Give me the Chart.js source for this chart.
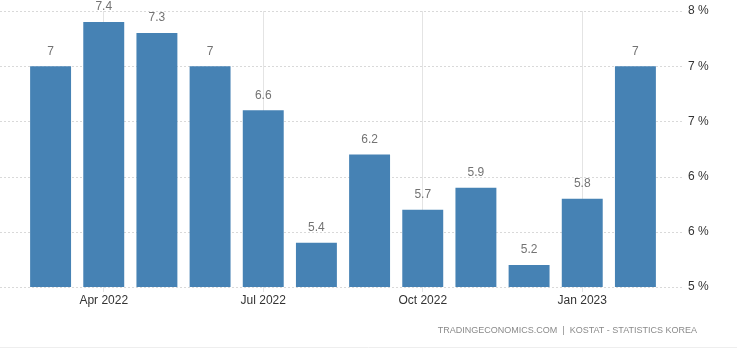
<!DOCTYPE html>
<html>
<head>
<meta charset="utf-8">
<script src="https://cdn.jsdelivr.net/npm/chart.js@4"></script>
<style>
  html, body { margin: 0; padding: 0; background: #fff; }
  #wrap { width: 737px; height: 353px; position: relative; }
</style>
</head>
<body>
<div id="wrap"><canvas id="c" width="737" height="353"></canvas></div>
<script>
// monthly inflation, Mar 2022 - Feb 2023
var months = ['Mar 2022', 'Apr 2022', 'May 2022', 'Jun 2022', 'Jul 2022', 'Aug 2022',
              'Sep 2022', 'Oct 2022', 'Nov 2022', 'Dec 2022', 'Jan 2023', 'Feb 2023'];
var values = [7, 7.4, 7.3, 7, 6.6, 5.4, 6.2, 5.7, 5.9, 5.2, 5.8, 7];
var shownMonths = ['Apr 2022', 'Jul 2022', 'Oct 2022', 'Jan 2023'];
var sourceText = 'TRADINGECONOMICS.COM  |  KOSTAT - STATISTICS KOREA';

var barColor = '#4682b4';
var fontFam = '"Liberation Sans", Arial, sans-serif';

// dotted horizontal lines that run across the whole width like the original
var hLines = {
  id: 'hLines',
  beforeDatasetsDraw: function(chart) {
    var ctx = chart.ctx, y = chart.scales.y;
    ctx.save();
    ctx.strokeStyle = '#d9d9d9';
    ctx.lineWidth = 1;
    ctx.setLineDash([2, 2]);
    y.ticks.forEach(function(t) {
      var py = Math.round(y.getPixelForValue(t.value)) + 0.5;
      ctx.beginPath();
      ctx.moveTo(0, py);
      ctx.lineTo(684, py);
      ctx.stroke();
    });
    ctx.restore();
  }
};

var valueLabels = {
  id: 'valueLabels',
  afterDatasetsDraw: function(chart) {
    var ctx = chart.ctx;
    var meta = chart.getDatasetMeta(0);
    ctx.save();
    ctx.font = '12px ' + fontFam;
    ctx.fillStyle = '#737373';
    ctx.textAlign = 'center';
    ctx.textBaseline = 'middle';
    meta.data.forEach(function(bar, i) {
      ctx.fillText(String(values[i]), bar.x, bar.y - 15);
    });
    ctx.restore();
  }
};

var footer = {
  id: 'footer',
  afterDraw: function(chart) {
    var ctx = chart.ctx;
    ctx.save();
    ctx.font = '9px ' + fontFam;
    ctx.fillStyle = '#8a8a8a';
    ctx.textAlign = 'right';
    ctx.textBaseline = 'middle';
    ctx.fillText(sourceText, 697, 331);
    ctx.strokeStyle = '#eeeeee';
    ctx.beginPath();
    ctx.moveTo(0, 347.5);
    ctx.lineTo(737, 347.5);
    ctx.stroke();
    ctx.restore();
  }
};

new Chart(document.getElementById('c'), {
  type: 'bar',
  data: {
    labels: months,
    datasets: [{
      data: values,
      backgroundColor: barColor,
      borderWidth: 0,
      categoryPercentage: 1,
      barPercentage: 0.77
    }]
  },
  options: {
    responsive: false,
    animation: false,
    events: [],
    layout: { padding: { left: 24, top: 11, right: 0, bottom: 0 } },
    plugins: { legend: { display: false }, tooltip: { enabled: false } },
    scales: {
      x: {
        offset: true,
        border: { display: false },
        grid: {
          offset: false,
          drawTicks: true,
          tickLength: 5,
          color: function(c) {
            var lbl = months[c.index];
            return shownMonths.indexOf(lbl) >= 0 ? '#e4e4e4' : 'rgba(0,0,0,0)';
          }
        },
        ticks: {
          autoSkip: false,
          maxRotation: 0,
          padding: 1,
          color: '#333',
          font: { size: 12, family: fontFam },
          callback: function(v, i) {
            return shownMonths.indexOf(months[i]) >= 0 ? months[i] : '';
          }
        },
        afterFit: function(s) { s.height = 66; }
      },
      y: {
        position: 'right',
        min: 5,
        max: 7.5,
        border: { display: false },
        grid: { display: false, drawTicks: false },
        ticks: {
          stepSize: 0.5,
          padding: 26,
          color: '#333',
          font: { size: 12, family: fontFam },
          callback: function(v) { return Math.round(v) + ' %'; }
        },
        afterFit: function(s) {
          s.width = 75;
          s.paddingTop = 0;
          s.paddingBottom = 0;
        }
      }
    }
  },
  plugins: [hLines, valueLabels, footer]
});
</script>
</body>
</html>
